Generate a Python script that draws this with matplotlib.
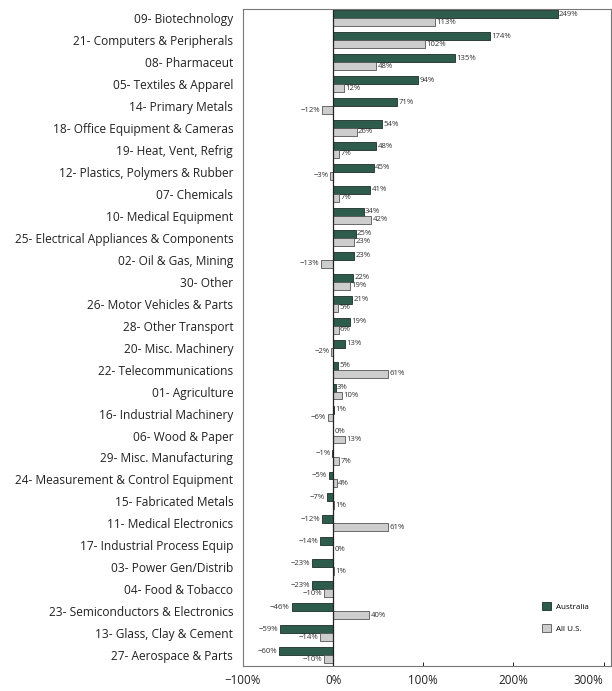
import matplotlib.pyplot as plt
import numpy as np

# industries, top to bottom
industries = [
    "09- Biotechnology", "21- Computers & Peripherals", "08- Pharmaceut",
    "05- Textiles & Apparel", "14- Primary Metals", "18- Office Equipment & Cameras",
    "19- Heat, Vent, Refrig", "12- Plastics, Polymers & Rubber", "07- Chemicals",
    "10- Medical Equipment", "25- Electrical Appliances & Components",
    "02- Oil & Gas, Mining", "30- Other", "26- Motor Vehicles & Parts",
    "28- Other Transport", "20- Misc. Machinery", "22- Telecommunications",
    "01- Agriculture", "16- Industrial Machinery", "06- Wood & Paper",
    "29- Misc. Manufacturing", "24- Measurement & Control Equipment",
    "15- Fabricated Metals", "11- Medical Electronics", "17- Industrial Process Equip",
    "03- Power Gen/Distrib", "04- Food & Tobacco", "23- Semiconductors & Electronics",
    "13- Glass, Clay & Cement", "27- Aerospace & Parts",
]
australia = [249, 174, 135, 94, 71, 54, 48, 45, 41, 34, 25, 23, 22, 21, 19, 13, 5,
             3, 1, 0, -1, -5, -7, -12, -14, -23, -23, -46, -59, -60]
all_us = [113, 102, 48, 12, -12, 26, 7, -3, 7, 42, 23, -13, 19, 5, 6, -2, 61,
          10, -6, 13, 7, 4, 1, 61, 0, 1, -10, 40, -14, -10]
x_ticks = [-100, 0, 100, 200, 300]

GREEN = "#2e5c4c"
GREY = "#cdcdcd"

plt.rcParams['font.family'] = ['Open Sans', 'DejaVu Sans']

fig = plt.figure(figsize=(6.12, 6.91), dpi=100)
ax = fig.add_axes([0.397, 0.036, 0.601, 0.951])

n = len(industries)
y = np.arange(n)
h = 0.36
ax.barh(y - h / 2, australia, height=h, color=GREEN, edgecolor="#1e2e28",
        linewidth=0.6, label="Australia")
ax.barh(y + h / 2, all_us, height=h, color=GREY, edgecolor="#555555",
        linewidth=0.6, label="All U.S.")


def put_labels(vals, offset):
    for yi, v in zip(y, vals):
        if v >= 0:
            ax.text(v + 1.5, yi + offset, f"{v}%", va="center", ha="left",
                    fontsize=5.6, color="#333333")
        else:
            ax.text(v - 2, yi + offset, f"\u2212{abs(v)}%", va="center", ha="right",
                    fontsize=5.6, color="#333333")


put_labels(australia, -h / 2)
put_labels(all_us, h / 2)

ax.axvline(0, color="#222222", linewidth=0.9)
ax.set_xlim(-100, 308)
ax.set_ylim(n - 0.5, -0.42)
ax.set_yticks(y)
ax.set_yticklabels(industries, fontsize=8.6, color="#222222")
ax.tick_params(axis="y", length=0, pad=7)
ax.set_xticks(x_ticks)
ax.set_xticklabels(["\u2212100%", "0%", "100%", "200%", "300%"], fontsize=8.4,
                   color="#222222")
ax.get_xticklabels()[-1].set_horizontalalignment("right")
ax.tick_params(axis="x", direction="in", length=3, width=0.6, pad=6)
for s in ax.spines.values():
    s.set_color("#777777")
    s.set_linewidth(0.8)

leg = ax.legend(loc="lower right", bbox_to_anchor=(0.96, 0.04), frameon=False,
                fontsize=5.8, handlelength=1.1, handleheight=1.1,
                labelspacing=1.6, handletextpad=0.6)

fig.savefig("out.png", dpi=100)
